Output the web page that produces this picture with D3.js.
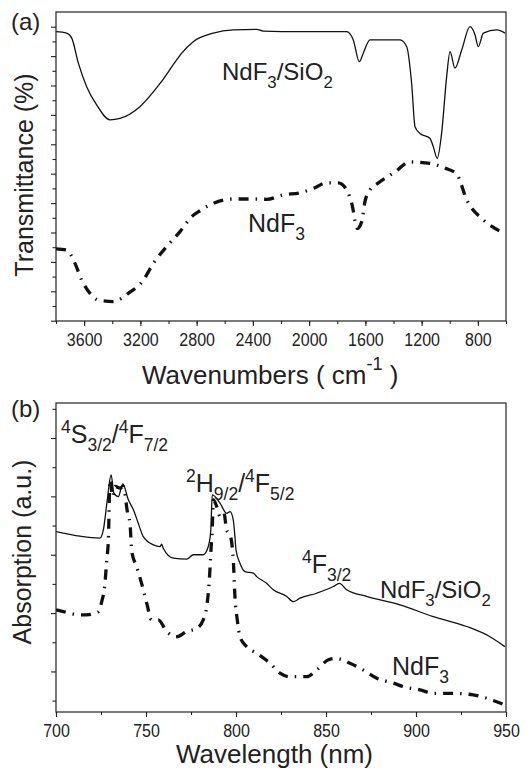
<!DOCTYPE html>
<html>
<head>
<meta charset="utf-8">
<script src="https://cdn.jsdelivr.net/npm/d3@7"></script>
<style>
  body { margin: 0; background: #fff; }
  svg text { font-family: "Liberation Sans", Arial, Helvetica, sans-serif; fill: #222; }
</style>
</head>
<body>
<div id="chart"></div>
<script>
// ---- data: (a) FT-IR transmittance ----
const irSilicaWn = [3800,3724,3688,3641,3582,3511,3416,3345,3203,3060,2942,2906,2824,2681,2539,2373,2326,2065,1733,1686,1643,1615,1567,1448,1354,1306,1271,1247,1212,1140,1117,1089,1058,1022,998,963,915,856,820,797,761,666,607];
const irSilicaT = [98.3,97.8,96.1,87.6,79.6,73.4,68.3,68.8,72.8,80.7,88.7,91.0,94.9,97.8,98.9,99.1,98.5,98.3,98.3,95.5,88.1,91.0,95.5,95.5,95.5,93.2,80.7,66.0,63.7,62.0,59.2,55.2,63.7,83.0,91.5,85.9,92.1,100,97.2,93.2,97.8,98.9,97.8];
const irBareWn = [3800,3724,3665,3617,3558,3499,3393,3286,3179,3108,3013,2918,2835,2776,2681,2539,2397,2302,2184,2065,1970,1875,1793,1733,1697,1657,1626,1603,1567,1510,1389,1283,1140,1034,951,879,761,607];
const irBareT = [24.4,24.0,19.5,13.8,9.3,7.0,6.5,9.3,13.8,19.5,25.2,30.3,35.4,37.4,39.9,41.4,41.4,41.3,42.8,43.5,45.0,46.9,46.9,44.5,39.9,31.4,33.7,40.5,44.5,46.8,50.6,54.0,53.5,51.9,49.9,41.1,34.3,29.7];
const irMajorTicks = [3600,3200,2800,2400,2000,1600,1200,800];

// ---- data: (b) absorption ----
const absSilicaWl = [700,724.4,726.3,728.5,730.6,732.2,734.6,737.1,740.2,743.0,745.7,748.5,754.1,757.8,758.7,759.6,765.2,772.6,776.3,781.8,784.6,786.0,786.8,791.1,794.8,796.7,798.5,799.4,800,802.2,805,809.6,811.5,817,820.7,828.2,831.8,835.6,844.8,854.1,857.4,861.5,872.6,891.1,909.6,928.2,941.1,949.4];
const absSilicaA = [5.79,5.57,5.85,6.88,7.74,7.11,6.99,7.43,6.88,6.54,6.08,5.62,5.34,5.28,5.36,5.22,4.88,4.85,5.00,5.00,5.28,5.85,7.05,6.77,6.42,6.48,6.19,5.62,5.17,4.71,4.42,4.37,4.25,4.02,3.80,3.57,3.39,3.51,3.68,3.91,4.02,3.80,3.57,3.28,2.88,2.54,2.19,1.85];
const absBareWl = [700,704.1,713.3,717.1,723.5,725.4,727.2,728.2,729.1,730,731.5,732.8,735.6,737.4,739.8,741.1,742.1,744.8,748.5,750.4,753.1,756.8,761.5,767,772.6,778.2,781.8,783.7,785.2,786.1,786.8,787.4,789.3,791.1,793.3,794.8,796.7,798.5,799.4,800.7,802.2,805.9,811.5,818.9,824.4,830,839.3,844.8,851.3,855,863.3,870.7,878.2,887.4,893,902.2,909.6,918.9,931.8,939.3,949.4];
const absBareA = [3.11,3.05,2.94,2.94,3.05,3.39,4.02,4.82,5.51,7.57,6.99,7.34,7.28,7.34,6.42,6.08,5.11,4.59,3.80,3.34,2.77,2.77,2.37,2.19,2.37,2.48,2.77,3.22,4.14,5.17,5.85,6.88,6.65,6.31,6.43,5.85,5.68,4.82,3.57,2.77,2.19,1.85,1.62,1.28,0.94,0.82,0.82,1.05,1.40,1.45,1.28,1.05,0.77,0.60,0.48,0.37,0.25,0.25,0.20,0.08,-0.15];
const absMajorTicks = [700,750,800,850,900,950];

const width = 528, height = 776;
const svg = d3.select("#chart").append("svg")
  .attr("width", width).attr("height", height);

const L = 56, R = 506;
const A = { top: 12, bottom: 321 };
const B = { top: 403, bottom: 712 };

const xA = d3.scaleLinear().domain([3800, 600]).range([L, R]);
const yA = d3.scaleLinear().domain([0, 105]).range([320.7, A.top]);
const xB = d3.scaleLinear().domain([700, 950]).range([L, R]);
const yB = d3.scaleLinear().domain([-0.39, 10.2]).range([B.bottom, B.top]);

const zip = (xs, ys) => xs.map((x, i) => [x, ys[i]]);

// rich text with sub/superscripts
function rich(x, y, parts, size, opts = {}) {
  const t = svg.append("text")
    .attr("x", x).attr("y", y)
    .style("font-size", size + "px")
    .attr("text-anchor", opts.anchor || "start");
  if (opts.rotate) t.attr("transform", `rotate(-90,${x},${y})`);
  let off = 0;
  parts.forEach(p => {
    const kind = p[1] || "n";
    const supShift = p[2] || 0.42;
    const target = kind === "sub" ? size * 0.32 : kind === "sup" ? -size * supShift : 0;
    const fs = kind === "n" ? size : size * 0.7;
    t.append("tspan").attr("dy", target - off).style("font-size", fs + "px").text(p[0]);
    off = target;
  });
  return t;
}

function panel(box, clipId) {
  svg.append("clipPath").attr("id", clipId).append("rect")
    .attr("x", L).attr("y", box.top).attr("width", R - L).attr("height", box.bottom - box.top);
  return svg.append("g").attr("clip-path", `url(#${clipId})`);
}

function styleAxis(g, labels) {
  g.select(".domain").remove();
  g.selectAll(".tick line").attr("stroke", "#222").attr("stroke-width", 1.1);
  g.selectAll(".tick text").style("font-size", "16px").attr("fill", "#222")
    .attr("transform", "scale(1,1.16)");
  if (!labels) g.selectAll(".tick text").remove();
}

// ---- panel (a) ----
const gA = panel(A, "clipA");
const lineA = d3.line().x(d => xA(d[0])).y(d => yA(d[1])).curve(d3.curveMonotoneX);
gA.append("path").datum(zip(irSilicaWn, irSilicaT)).attr("d", lineA)
  .attr("fill", "none").attr("stroke", "#111").attr("stroke-width", 1.3);
gA.append("path").datum(zip(irBareWn, irBareT)).attr("d", lineA)
  .attr("fill", "none").attr("stroke", "#111").attr("stroke-width", 3.3)
  .attr("stroke-dasharray", "10,7,1.5,7");

svg.append("g").attr("transform", `translate(0,${A.bottom})`)
  .call(d3.axisBottom(xA).tickValues(d3.range(3800, 599, -200)).tickSize(3))
  .call(g => styleAxis(g, false));
svg.append("g").attr("transform", `translate(0,${A.bottom})`)
  .call(d3.axisBottom(xA).tickValues(irMajorTicks).tickSize(5).tickPadding(5.5).tickFormat(d3.format("d")))
  .call(g => styleAxis(g, true));
svg.append("g").attr("transform", `translate(${L},0)`)
  .call(d3.axisLeft(yA).tickValues(d3.range(5, 101, 10)).tickSize(3.5))
  .call(g => styleAxis(g, false));
svg.append("g").attr("transform", `translate(${L},0)`)
  .call(d3.axisLeft(yA).tickValues(d3.range(0, 101, 10)).tickSize(5))
  .call(g => styleAxis(g, false));
svg.append("rect").attr("x", L).attr("y", A.top).attr("width", R - L).attr("height", A.bottom - A.top)
  .attr("fill", "none").attr("stroke", "#222").attr("stroke-width", 1.2);

rich(11, 30, [["(a)"]], 24);
rich(33, 175, [["Transmittance (%)"]], 25, { anchor: "middle", rotate: true });
rich(142, 384, [["Wavenumbers ( cm"], ["-1", "sup", 0.55], [" )"]], 26);
rich(222, 80, [["NdF"], ["3", "sub"], ["/SiO"], ["2", "sub"]], 24);
rich(248, 232, [["NdF"], ["3", "sub"]], 25);

// ---- panel (b) ----
const gB = panel(B, "clipB");
const lineB = d3.line().x(d => xB(d[0])).y(d => yB(d[1])).curve(d3.curveMonotoneX);
gB.append("path").datum(zip(absSilicaWl, absSilicaA)).attr("d", lineB)
  .attr("fill", "none").attr("stroke", "#111").attr("stroke-width", 1.3);
gB.append("path").datum(zip(absBareWl, absBareA)).attr("d", lineB)
  .attr("fill", "none").attr("stroke", "#111").attr("stroke-width", 3.3)
  .attr("stroke-dasharray", "10,7,1.5,7");

svg.append("g").attr("transform", `translate(0,${B.bottom})`)
  .call(d3.axisBottom(xB).tickValues(d3.range(700, 951, 25)).tickSize(3))
  .call(g => styleAxis(g, false));
svg.append("g").attr("transform", `translate(0,${B.bottom})`)
  .call(d3.axisBottom(xB).tickValues(absMajorTicks).tickSize(5).tickPadding(5).tickFormat(d3.format("d")))
  .call(g => styleAxis(g, true));
svg.append("g").attr("transform", `translate(${L},0)`)
  .call(d3.axisLeft(yB).tickValues(d3.range(0, 11, 2)).tickSize(3.5))
  .call(g => styleAxis(g, false));
svg.append("g").attr("transform", `translate(${L},0)`)
  .call(d3.axisLeft(yB).tickValues(d3.range(1, 10, 2)).tickSize(5))
  .call(g => styleAxis(g, false));
svg.append("rect").attr("x", L).attr("y", B.top).attr("width", R - L).attr("height", B.bottom - B.top)
  .attr("fill", "none").attr("stroke", "#222").attr("stroke-width", 1.2);

rich(11, 417, [["(b)"]], 24);
rich(31, 552, [["Absorption (a.u.)"]], 25, { anchor: "middle", rotate: true });
rich(176, 763, [["Wavelength (nm)"]], 26);
rich(61, 443, [["4", "sup"], ["S"], ["3/2", "sub"], ["/"], ["4", "sup"], ["F"], ["7/2", "sub"]], 25);
rich(186, 492, [["2", "sup"], ["H"], ["9/2", "sub"], ["/"], ["4", "sup"], ["F"], ["5/2", "sub"]], 25);
rich(302, 573, [["4", "sup"], ["F"], ["3/2", "sub"]], 25);
rich(380, 598, [["NdF"], ["3", "sub"], ["/SiO"], ["2", "sub"]], 24);
rich(392, 675, [["NdF"], ["3", "sub"]], 25);
</script>
</body>
</html>
